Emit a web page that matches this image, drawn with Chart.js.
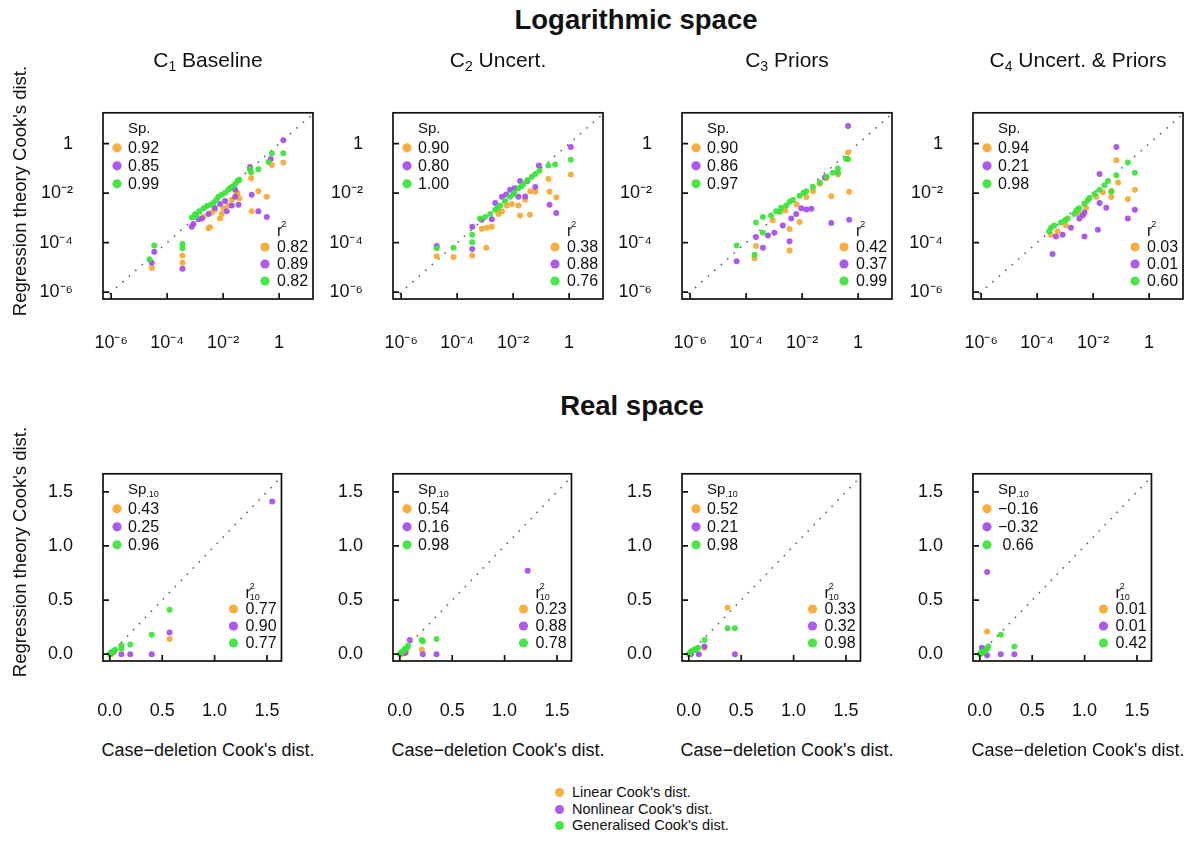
<!DOCTYPE html>
<html>
<head>
<meta charset="utf-8">
<script src="https://cdn.jsdelivr.net/npm/chart.js@4.4.1/dist/chart.umd.min.js"></script>
<style>
  body { margin: 0; background: #fff; font-family: "Liberation Sans", Arial, sans-serif; color: #111; }
  #fig { position: relative; width: 1193px; height: 841px; overflow: hidden; }
  canvas { position: absolute; }
  .txt { position: absolute; white-space: nowrap; line-height: 1; }
  .main { font-weight: bold; font-size: 27.5px; width: 400px; text-align: center; }
  .ptitle { font-size: 21px; width: 260px; text-align: center; }
  .ptitle sub { font-size: 14px; vertical-align: -4px; }
  .xtitle { font-size: 18px; width: 260px; text-align: center; }
  .ytitle { font-size: 18.5px; width: 300px; height: 18px; text-align: center; transform: rotate(-90deg); }
  .leg { font-size: 14.5px; }
  .dot { position: absolute; width: 9px; height: 9px; border-radius: 50%; }
</style>
</head>
<body>
<div id="fig"></div>
<script>
// values are log10(Cook's distance) for the top row, raw Cook's distance for the bottom row
// each point: [case-deletion, regression theory]
var logC1Lin = [[-4.55,-5.03],[-3.45,-4.52],[-3.45,-4.81],[-2.52,-3.42],[-2.47,-3.38],[-2.70,-2.95],[-2.40,-2.78],[-2.29,-2.67],[-2.11,-3.02],[-2.05,-2.84],[-1.99,-2.61],[-1.81,-2.50],[-1.69,-2.27],[-1.50,-1.98],[-1.42,-2.21],[-1.49,-2.03],[-1.00,-1.40],[-0.98,-2.73],[-0.74,-1.92],[-0.44,-2.15],[-0.26,-0.86],[0.15,-0.76]];
var logC1Non = [[-4.46,-4.37],[-4.55,-4.81],[-3.45,-5.06],[-3.12,-3.36],[-3.06,-3.25],[-2.88,-3.05],[-2.76,-3.02],[-2.52,-2.84],[-2.30,-2.60],[-2.11,-2.44],[-1.93,-2.32],[-1.87,-2.73],[-1.69,-2.50],[-1.57,-2.15],[-1.57,-1.86],[-1.45,-2.47],[-1.04,-0.94],[-0.98,-2.06],[-0.74,-2.73],[-0.44,-2.96],[-0.30,-0.62],[0.15,0.14]];
var logC1Gen = [[-4.46,-4.12],[-4.63,-4.67],[-3.45,-4.06],[-3.45,-4.23],[-3.12,-2.98],[-3.00,-2.84],[-2.95,-2.92],[-2.85,-2.73],[-2.70,-2.61],[-2.58,-2.52],[-2.46,-2.47],[-2.35,-2.40],[-2.25,-2.28],[-2.17,-2.15],[-2.05,-2.06],[-1.93,-1.98],[-1.81,-1.86],[-1.75,-1.80],[-1.69,-1.75],[-1.57,-1.63],[-1.49,-1.51],[-1.42,-1.46],[-1.04,-1.02],[-1.00,-1.15],[-0.74,-1.03],[-0.38,-0.74],[-0.26,-0.39],[0.15,-0.39]];

var logC2Lin = [[-4.73,-4.55],[-4.13,-4.58],[-3.46,-4.52],[-2.96,-4.21],[-3.12,-3.44],[-2.94,-3.40],[-2.76,-3.36],[-2.52,-2.84],[-2.40,-2.73],[-2.23,-2.50],[-2.05,-2.44],[-1.81,-2.50],[-1.57,-2.27],[-1.39,-1.92],[-1.21,-1.94],[-1.75,-2.90],[-1.40,-2.87],[-0.74,-1.43],[-0.70,-1.94],[-0.46,-2.17],[0.06,-1.25]];
var logC2Non = [[-4.73,-4.14],[-3.46,-4.26],[-3.46,-3.36],[-3.12,-3.08],[-2.76,-3.05],[-2.64,-2.40],[-2.40,-2.15],[-2.25,-2.05],[-2.11,-1.86],[-1.95,-1.80],[-1.75,-1.51],[-1.49,-1.51],[-1.21,-1.75],[-1.81,-2.15],[-1.57,-2.13],[-1.08,-0.88],[-0.70,-2.47],[-0.46,-2.80],[0.06,-0.13]];
var logC2Gen = [[-4.73,-4.23],[-4.13,-4.21],[-3.46,-3.68],[-3.46,-3.98],[-3.18,-3.02],[-3.00,-2.96],[-2.82,-2.84],[-2.64,-2.67],[-2.55,-2.60],[-2.46,-2.50],[-2.29,-2.32],[-2.11,-2.15],[-2.00,-2.05],[-1.96,-1.98],[-1.81,-1.80],[-1.70,-1.72],[-1.63,-1.63],[-1.49,-1.48],[-1.33,-1.34],[-1.21,-1.22],[-1.06,-1.09],[-0.74,-0.88],[-0.50,-0.84],[0.06,-0.65]];

var logC3Lin = [[-3.65,-4.14],[-3.70,-4.63],[-3.05,-3.10],[-2.60,-2.70],[-2.45,-3.45],[-2.45,-4.32],[-2.20,-2.45],[-2.09,-3.17],[-1.85,-2.16],[-1.61,-1.92],[-1.37,-1.62],[-1.13,-1.40],[-0.96,-2.12],[-0.72,-1.25],[-0.36,-0.36],[-0.32,-1.94]];
var logC3Non = [[-4.34,-4.75],[-3.65,-3.77],[-3.40,-4.21],[-3.22,-3.71],[-2.99,-3.60],[-2.69,-3.31],[-2.45,-3.94],[-2.39,-3.02],[-2.21,-2.84],[-2.03,-2.61],[-1.85,-2.66],[-1.67,-2.63],[-1.19,-1.37],[-0.96,-3.21],[-0.32,-3.08],[-0.36,0.72]];
var logC3Gen = [[-4.34,-4.12],[-3.70,-4.49],[-3.40,-3.60],[-3.65,-3.19],[-3.40,-2.96],[-3.11,-2.90],[-2.93,-2.73],[-2.80,-2.75],[-2.75,-2.59],[-2.57,-2.50],[-2.45,-2.35],[-2.33,-2.27],[-2.09,-2.10],[-1.95,-1.98],[-1.85,-1.92],[-1.61,-1.75],[-1.37,-1.57],[-1.13,-1.34],[-0.90,-1.17],[-0.72,-1.00],[-0.72,-1.17],[-0.43,-0.62],[-0.36,-0.62]];

var logC4Lin = [[-3.51,-3.68],[-3.27,-3.54],[-2.97,-3.31],[-2.49,-2.84],[-2.25,-2.60],[-1.89,-2.14],[-1.65,-1.96],[-1.35,-1.90],[-1.35,-2.16],[-1.11,-1.57],[-1.17,-0.67],[-0.76,-2.24],[-0.51,-1.86]];
var logC4Non = [[-3.45,-4.46],[-3.33,-3.75],[-3.09,-3.68],[-2.79,-3.40],[-2.49,-3.02],[-2.37,-2.90],[-2.31,-2.79],[-2.31,-3.75],[-1.83,-3.48],[-1.77,-2.40],[-1.53,-2.59],[-1.77,-1.23],[-1.17,-0.13],[-0.76,-3.02],[-0.51,-2.67]];
var logC4Gen = [[-3.57,-3.54],[-3.50,-3.40],[-3.39,-3.31],[-3.15,-3.19],[-3.00,-3.10],[-2.91,-3.02],[-2.67,-2.84],[-2.60,-2.70],[-2.49,-2.61],[-2.31,-2.43],[-2.20,-2.30],[-2.13,-2.20],[-1.95,-2.03],[-1.77,-1.86],[-1.59,-1.68],[-1.47,-1.51],[-1.35,-1.94],[-1.17,-1.28],[-0.76,-0.76],[-0.51,-1.17]];

var realC1Lin = [[0.01,0.0],[0.02,0.01],[0.04,0.02],[0.57,0.14]];
var realC1Non = [[0.01,0.01],[0.03,0.02],[0.11,0.0],[0.195,0.0],[0.40,0.0],[0.57,0.20],[1.55,1.41]];
var realC1Gen = [[0.0,0.0],[0.01,0.01],[0.02,0.02],[0.03,0.02],[0.04,0.03],[0.05,0.04],[0.11,0.05],[0.11,0.08],[0.195,0.09],[0.40,0.18],[0.57,0.41]];

var realC2Lin = [[0.01,0.0],[0.04,0.01],[0.06,0.02],[0.21,0.04]];
var realC2Non = [[0.02,0.01],[0.05,0.01],[0.095,0.13],[0.22,0.0],[0.35,0.0],[1.22,0.77]];
var realC2Gen = [[0.0,0.0],[0.01,0.01],[0.02,0.02],[0.03,0.03],[0.05,0.05],[0.07,0.06],[0.08,0.08],[0.21,0.13],[0.22,0.12],[0.35,0.14]];

var realC3Lin = [[0.02,0.01],[0.06,0.04],[0.15,0.06],[0.37,0.43]];
var realC3Non = [[0.02,0.0],[0.095,0.0],[0.15,0.07],[0.44,0.0]];
var realC3Gen = [[0.0,0.0],[0.01,0.01],[0.02,0.02],[0.03,0.03],[0.05,0.04],[0.07,0.05],[0.09,0.06],[0.15,0.13],[0.37,0.24],[0.44,0.24]];

var realC4Lin = [[0.02,0.01],[0.05,0.01],[0.07,0.21]];
var realC4Non = [[0.02,0.06],[0.07,-0.01],[0.07,0.76],[0.20,0.0],[0.33,0.0]];
var realC4Gen = [[0.0,0.0],[0.01,0.01],[0.02,0.02],[0.03,0.02],[0.05,0.03],[0.07,0.05],[0.08,0.07],[0.20,0.18],[0.33,0.07]];

// Spearman and r^2 per panel: [linear, nonlinear, generalised]
var logSp = [[0.92,0.85,0.99],[0.90,0.80,1.00],[0.90,0.86,0.97],[0.94,0.21,0.98]];
var logR2 = [[0.82,0.89,0.82],[0.38,0.88,0.76],[0.42,0.37,0.99],[0.03,0.01,0.60]];
var realSp = [[0.43,0.25,0.96],[0.54,0.16,0.98],[0.52,0.21,0.98],[-0.16,-0.32,0.66]];
var realR2 = [[0.77,0.90,0.77],[0.23,0.88,0.78],[0.33,0.32,0.98],[0.01,0.01,0.42]];

var panelTitles = ['C<sub>1</sub> Baseline', 'C<sub>2</sub> Uncert.', 'C<sub>3</sub> Priors', 'C<sub>4</sub> Uncert. &amp; Priors'];
var seriesNames = ["Linear Cook's dist.", "Nonlinear Cook's dist.", "Generalised Cook's dist."];

var logTicks = [-6, -4, -2, 0];
var logTickLabels = ['10\u207B\u2076', '10\u207B\u2074', '10\u207B\u00B2', '1'];
var realTicks = [0, 0.5, 1, 1.5];
var realTickLabels = ['0.0', '0.5', '1.0', '1.5'];

var colors = ['rgba(249,168,48,0.92)', 'rgba(164,76,236,0.92)', 'rgba(58,228,58,0.92)'];
var textCol = '#111';
var FONT = '"Liberation Sans", Arial, sans-serif';

var boxLeft = [103, 393, 682, 973];
var boxW = 210;
var rows = [
  { top: 82, h: 217, lo: [-6.29, 1.21], ylo: [-6.28, 1.25], ticks: logTicks, labels: logTickLabels, pad: 33,
    data: [[logC1Lin, logC1Non, logC1Gen], [logC2Lin, logC2Non, logC2Gen], [logC3Lin, logC3Non, logC3Gen], [logC4Lin, logC4Non, logC4Gen]],
    sp: logSp, r2: logR2, sub: false },
  { top: 443, h: 218, lo: [-0.065, 1.638], ylo: [-0.063, 1.667], ticks: realTicks, labels: realTickLabels, pad: 39,
    data: [[realC1Lin, realC1Non, realC1Gen], [realC2Lin, realC2Non, realC2Gen], [realC3Lin, realC3Non, realC3Gen], [realC4Lin, realC4Non, realC4Gen]],
    sp: realSp, r2: realR2, sub: true }
];

function pts(arr) {
  return arr.map(function (p) { return { x: p[0], y: p[1] }; });
}

function fmtGroup(vals) {
  var neg = vals.some(function (v) { return v < 0; });
  return vals.map(function (v) {
    return v < 0 ? '\u2212' + Math.abs(v).toFixed(2) : (neg ? ' ' : '') + v.toFixed(2);
  });
}

// box + inward tick marks
var frame = {
  id: 'frame',
  afterDraw: function (chart) {
    var ctx = chart.ctx, a = chart.chartArea, sx = chart.scales.x, sy = chart.scales.y;
    ctx.save();
    ctx.strokeStyle = '#111';
    ctx.lineWidth = 1.7;
    ctx.strokeRect(a.left, a.top, a.right - a.left, a.bottom - a.top);
    ctx.beginPath();
    sx.ticks.forEach(function (t) {
      var px = sx.getPixelForValue(t.value);
      ctx.moveTo(px, a.bottom); ctx.lineTo(px, a.bottom - 6);
    });
    sy.ticks.forEach(function (t) {
      var py = sy.getPixelForValue(t.value);
      ctx.moveTo(a.left, py); ctx.lineTo(a.left + 6, py);
    });
    ctx.stroke();
    ctx.restore();
  }
};

function dot(ctx, x, y, c) {
  ctx.fillStyle = c;
  ctx.beginPath(); ctx.arc(x, y, 4.6, 0, Math.PI * 2); ctx.fill();
}

// Sp. / r^2 annotations inside each panel
var statLegend = {
  id: 'statLegend',
  afterDatasetsDraw: function (chart, args, o) {
    var ctx = chart.ctx, a = chart.chartArea;
    ctx.save();
    ctx.fillStyle = textCol;
    ctx.textBaseline = 'middle';
    ctx.textAlign = 'left';
    // top-left block
    var x0 = a.left + 25;
    ctx.font = '15px ' + FONT;
    if (o.sub) {
      ctx.fillText('Sp', x0, a.top + 16);
      var w = ctx.measureText('Sp').width;
      ctx.font = '9px ' + FONT;
      ctx.fillText('.10', x0 + w, a.top + 21);
    } else {
      ctx.fillText('Sp.', x0, a.top + 16);
    }
    ctx.font = '16px ' + FONT;
    fmtGroup(o.sp).forEach(function (s, i) {
      var y = a.top + 35 + 18 * i;
      dot(ctx, a.left + 14, y, colors[i]);
      ctx.fillStyle = textCol;
      ctx.fillText(s, x0, y + 1);
    });
    // bottom-right block
    var x1 = a.right - 36;
    ctx.font = '16px ' + FONT;
    ctx.fillText('r', x1, a.bottom - 67);
    var rw = ctx.measureText('r').width;
    ctx.font = '9px ' + FONT;
    ctx.fillText('2', x1 + rw - 1, a.bottom - 74);
    if (o.sub) ctx.fillText('10', x1 + rw - 1, a.bottom - 63);
    ctx.font = '16px ' + FONT;
    fmtGroup(o.r2).forEach(function (s, i) {
      var y = a.bottom - 52 + 17 * i;
      dot(ctx, a.right - 48, y, colors[i]);
      ctx.fillStyle = textCol;
      ctx.fillText(s, x1, y + 1);
    });
    ctx.restore();
  }
};

var fig = document.getElementById('fig');

function addText(cls, html, left, top) {
  var d = document.createElement('div');
  d.className = 'txt ' + cls;
  d.innerHTML = html;
  d.style.left = left + 'px';
  d.style.top = top + 'px';
  fig.appendChild(d);
  return d;
}

rows.forEach(function (row, r) {
  boxLeft.forEach(function (bl, c) {
    var xh = 60;
    var cv = document.createElement('canvas');
    cv.width = 100 + boxW + 6;
    cv.height = 10 + row.h + xh;
    cv.style.left = (bl - 100) + 'px';
    cv.style.top = (row.top - 10) + 'px';
    fig.appendChild(cv);

    var series = row.data[c];
    var lo = Math.min(row.lo[0], row.ylo[0]), hi = Math.max(row.lo[1], row.ylo[1]);
    var datasets = [2, 1, 0].map(function (k, j) {
      return {
        label: seriesNames[k], data: pts(series[k]), backgroundColor: colors[k],
        pointRadius: 3, pointBorderWidth: 0, borderWidth: 0, order: j + 1
      };
    });
    datasets.push({
      type: 'line', label: 'y = x', data: [{ x: lo, y: lo }, { x: hi, y: hi }],
      borderColor: '#666', borderWidth: 1.6, borderDash: [1.6, 7], pointRadius: 0, order: 9
    });

    var tickFont = { family: FONT, size: 18 };
    new Chart(cv, {
      type: 'scatter',
      data: { datasets: datasets },
      options: {
        responsive: false,
        animation: false,
        layout: { padding: { top: 10, right: 6, left: 0, bottom: 0 } },
        plugins: {
          legend: { display: false },
          tooltip: { enabled: false },
          statLegend: { sp: row.sp[c], r2: row.r2[c], sub: row.sub }
        },
        scales: {
          x: {
            type: 'linear', min: row.lo[0], max: row.lo[1],
            afterBuildTicks: function (s) { s.ticks = row.ticks.map(function (v) { return { value: v }; }); },
            afterFit: function (s) { s.height = xh; },
            grid: { display: false, drawTicks: false },
            border: { display: false },
            ticks: {
              autoSkip: false, maxRotation: 0, padding: row.pad, color: textCol, font: tickFont,
              callback: function (v, i) { return row.labels[i]; }
            }
          },
          y: {
            type: 'linear', min: row.ylo[0], max: row.ylo[1],
            afterBuildTicks: function (s) { s.ticks = row.ticks.map(function (v) { return { value: v }; }); },
            afterFit: function (s) { s.width = 100; },
            grid: { display: false, drawTicks: false },
            border: { display: false },
            ticks: {
              autoSkip: false, padding: 30, color: textCol, font: tickFont,
              callback: function (v, i) { return row.labels[i]; }
            }
          }
        }
      },
      plugins: [frame, statLegend]
    });

    if (r === 0) addText('ptitle', panelTitles[c], bl + boxW / 2 - 130, 49);
    if (r === 1) addText('xtitle', 'Case\u2212deletion Cook\'s dist.', bl + boxW / 2 - 130, 741);
  });
  addText('ytitle', 'Regression theory Cook\'s dist.', 19.5 - 150, row.top + row.h / 2 - 9);
});

addText('main', 'Logarithmic space', 636 - 200, 6);
addText('main', 'Real space', 632 - 200, 392);

// shared legend at the bottom
var legTop = [792, 809, 825];
seriesNames.forEach(function (name, i) {
  var d = document.createElement('div');
  d.className = 'dot';
  d.style.background = colors[i];
  d.style.left = (559 - 4.5) + 'px';
  d.style.top = (legTop[i] - 4.5) + 'px';
  fig.appendChild(d);
  addText('leg', name, 572, legTop[i] - 7);
});
</script>
</body>
</html>
